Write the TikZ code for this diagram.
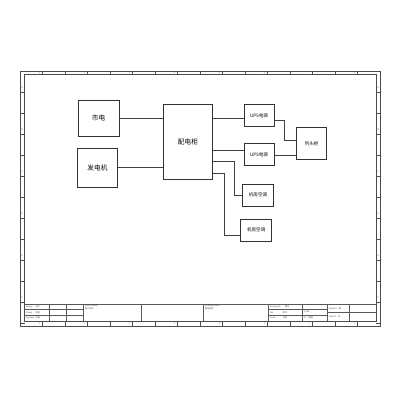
\documentclass[tikz,border=0pt]{standalone}
\usepackage{fontspec}
\setmainfont{Liberation Sans}
\newfontfamily\cjk{Noto Sans CJK SC}
\begin{document}
\begin{tikzpicture}[x=0.5mm,y=-0.5mm,
  frameline/.style={draw=black!70,line width=0.7pt},
  thinline/.style={draw=black!65,line width=0.5pt},
  box/.style={draw=black!80,line width=0.7pt,inner sep=0pt},
  wire/.style={draw=black!75,line width=0.7pt},
  bigtxt/.style={font=\cjk\fontsize{9.5}{10}\selectfont},
  smalltxt/.style={font=\cjk\fontsize{6.5}{7}\selectfont},
  tb/.style={font=\cjk\fontsize{3}{3.5}\selectfont,text=black!70,inner sep=0pt,anchor=west},
  tick/.style={draw=black!70,line width=0.5pt}]
\useasboundingbox[fill=white] (0,0) rectangle (400,400);
% frame
\draw[frameline] (20,71) rectangle (380.5,326);
\draw[frameline] (24.5,74.5) rectangle (376,321);
% top and bottom ticks
\foreach \i in {0,...,14}{
  \pgfmathsetmacro{\xx}{42.5+22.5*\i}
  \draw[tick] (\xx,71) -- (\xx,74.5);
  \draw[tick] (\xx,321) -- (\xx,326);
}
\foreach \i/\n in {0/1,2/2,4/3,6/4,8/5,10/6,12/7,14/8}{
  \pgfmathsetmacro{\xx}{42.5+22.5*\i-3}
  \node[tb,anchor=center] at (\xx,72.8) {\n};
  \node[tb,anchor=center] at (\xx,323.5) {\n};
}
% left and right ticks
\foreach \i in {0,...,11}{
  \pgfmathsetmacro{\yy}{92+21*\i}
  \draw[tick] (20,\yy) -- (24.5,\yy);
  \draw[tick] (376,\yy) -- (380.5,\yy);
}
\foreach \i/\n in {0/A,2/B,4/C,6/D,8/E,10/F}{
  \pgfmathsetmacro{\yy}{92+21*\i-4}
  \node[tb,anchor=center] at (22.2,\yy) {\n};
  \node[tb,anchor=center] at (378.2,\yy) {\n};
}
% title block
\draw[thinline] (24.5,304) -- (376,304);
\foreach \x in {49,66,83,141,203,268,302,327,349}{\draw[thinline] (\x,304) -- (\x,321);}
\draw[thinline] (24.5,309.5) -- (83,309.5);
\draw[thinline] (24.5,315) -- (83,315);
\draw[thinline] (268,309.5) -- (327,309.5);
\draw[thinline] (268,315) -- (327,315);
\draw[thinline] (327,312.5) -- (376,312.5);
\node[tb] (t1) at (26,306.8) {Design\hspace{4pt}设计};
\node[tb] (t2) at (26,312.2) {Check\hspace{5pt}审核};
\node[tb] (t3) at (26,318) {Approve\hspace{2pt}批准};
\node[tb] (t4) at (85,306) {Client Name};
\node[tb] (t5) at (85,309) {客户名称};
\node[tb] (t6) at (205,306) {Drawing Name};
\node[tb] (t7) at (205,309) {图纸名称};
\node[tb] (t8) at (270,306.8) {Drawing N.\hspace{6pt}图号};
\node[tb] (t9) at (270,312.2) {Ver.\hspace{13pt}版本};
\node[tb] (t10) at (270,318) {Scale\hspace{11pt}比例};
\node[tb] (t11) at (304,312.2) {1:100};
\node[tb] (t12) at (304,318) {A3\hspace{3pt}图幅};
\node[tb] (t13) at (329,308.3) {Sheet N.\hspace{2pt}第};
\node[tb] (t14) at (329,316.8) {Total N.\hspace{2pt}共};
% diagram boxes
\node[box,bigtxt,minimum width=40.7*0.5mm,minimum height=35.3*0.5mm] (sd) at (98.6,118.3) {市电};
\node[box,bigtxt,minimum width=40.4*0.5mm,minimum height=39*0.5mm] (fdj) at (97.5,167.8) {发电机};
\node[box,bigtxt,minimum width=49.4*0.5mm,minimum height=75*0.5mm] (pdg) at (188,141.5) {配电柜};
\node[box,smalltxt,minimum width=30*0.5mm,minimum height=22.7*0.5mm] (ups1) at (259,115.3) {UPS电源};
\node[box,smalltxt,minimum width=30*0.5mm,minimum height=22.4*0.5mm] (ups2) at (259,154.5) {UPS电源};
\node[box,smalltxt,minimum width=30.6*0.5mm,minimum height=21.7*0.5mm] (kt1) at (258,195.2) {机房空调};
\node[box,smalltxt,minimum width=31*0.5mm,minimum height=22*0.5mm] (kt2) at (256.2,230) {机房空调};
\node[box,smalltxt,minimum width=30*0.5mm,minimum height=32*0.5mm] (ltg) at (311.7,143.7) {列头柜};
% connectors
\draw[wire] (sd.east |- 0,118) -- (pdg.west |- 0,118);
\draw[wire] (fdj.east |- 0,167.7) -- (pdg.west |- 0,167.7);
\draw[wire] (pdg.east |- 0,118.3) -- (ups1.west |- 0,118.3);
\draw[wire] (pdg.east |- 0,150.7) -- (ups2.west |- 0,150.7);
\draw[wire] (pdg.east |- 0,161.7) -| (234,195.7) -- (kt1.west |- 0,195.7);
\draw[wire] (pdg.east |- 0,173.3) -| (224,235) -- (kt2.west |- 0,235);
\draw[wire] (ups1.east |- 0,120) -| (284,140) -- (ltg.west |- 0,140);
\draw[wire] (ups2.east |- 0,155) -- (ltg.west |- 0,155);
\end{tikzpicture}
\end{document}
